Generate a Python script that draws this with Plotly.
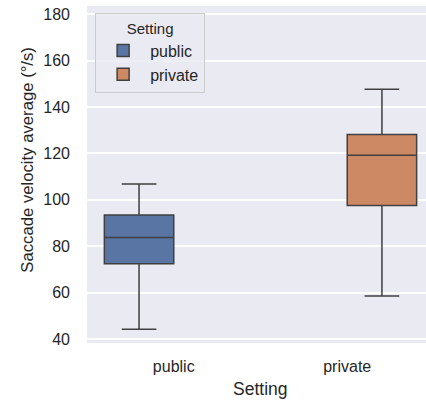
import plotly.graph_objects as go

categories = ["public", "private"]
settings = ["public", "private"]
lower_whisker = [44.2, 58.5]
q1_vals = [72.5, 97.6]
medians = [83.8, 119.2]
q3_vals = [93.5, 128.2]
upper_whisker = [106.8, 147.7]
fill_colors = ["#5875A4", "#CC8963"]
y_ticks = [40, 60, 80, 100, 120, 140, 160, 180]

FONT = "Liberation Sans, Arial, sans-serif"
LINE = "#404040"

fig = go.Figure()
for i, s in enumerate(settings):
    fig.add_trace(go.Box(
        name=s,
        x=[categories[i]],
        q1=[q1_vals[i]],
        median=[medians[i]],
        q3=[q3_vals[i]],
        lowerfence=[lower_whisker[i]],
        upperfence=[upper_whisker[i]],
        fillcolor=fill_colors[i],
        line=dict(color=LINE, width=1.5),
        whiskerwidth=0.5,
        boxpoints=False,
        hoverinfo="skip",
    ))

fig.update_layout(
    width=426, height=401,
    margin=dict(l=87, r=0, t=6, b=58),
    paper_bgcolor="white",
    plot_bgcolor="#EAEAF2",
    boxmode="group",
    boxgap=0.2,
    boxgroupgap=0,
    font=dict(family=FONT, size=16, color="#262626"),
    showlegend=True,
    legend=dict(
        title=dict(text="Setting", side="top center", font=dict(size=15)),
        x=0.024, y=0.979, xanchor="left", yanchor="top",
        bgcolor="rgba(234,234,242,0.8)",
        bordercolor="#CCCCCC", borderwidth=1,
        font=dict(size=16),
        itemwidth=44,
    ),
    xaxis=dict(
        type="category",
        categoryorder="array", categoryarray=categories,
        range=[-0.5, 1.454],
        showgrid=False,
        zeroline=False, showline=False,
        ticks="", ticklabelstandoff=12,
        tickfont=dict(size=16),
    ),
    yaxis=dict(
        range=[38.27, 183.6],
        tickvals=y_ticks,
        showgrid=True, gridcolor="white", gridwidth=1.5,
        zeroline=False, showline=False,
        ticks="", ticklabelstandoff=16,
        tickfont=dict(size=16),
    ),
    annotations=[
        dict(text="Setting", xref="paper", yref="paper",
             x=0.51, y=-0.136, xanchor="center", yanchor="middle",
             showarrow=False, font=dict(size=17.5)),
        dict(text="Saccade velocity average (°/s)", xref="paper", yref="paper",
             x=-0.178, y=0.543, xanchor="center", yanchor="middle",
             textangle=-90, showarrow=False, font=dict(size=16.7)),
    ],
)

fig.write_html(
    "out.html",
    config={"displayModeBar": False},
    post_script=(
        "document.body.style.margin='0';"
        "document.body.style.overflow='hidden';"
        "document.documentElement.style.overflow='hidden';"
    ),
)
